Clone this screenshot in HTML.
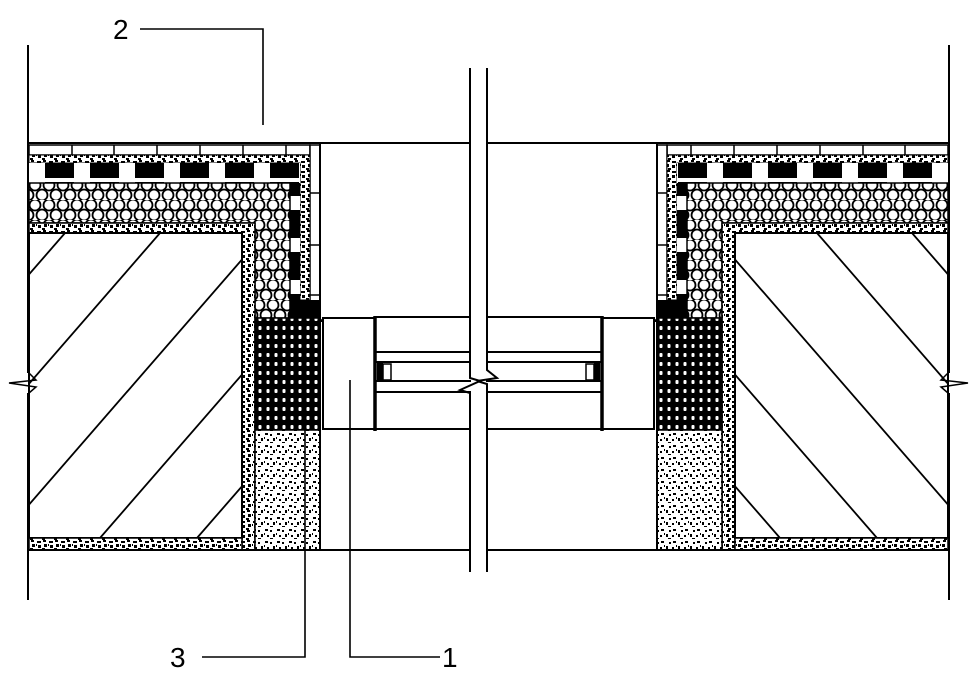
<!DOCTYPE html>
<html><head><meta charset="utf-8"><style>html,body{margin:0;padding:0;background:#fff}svg{display:block}</style></head>
<body>
<svg width="978" height="675" viewBox="0 0 978 675" xmlns="http://www.w3.org/2000/svg">
<defs>
<pattern id="spk" width="12" height="10" patternUnits="userSpaceOnUse">
<rect width="12" height="10" fill="#fff"/>
<rect x="1" y="1" width="4" height="2" fill="#000"/><rect x="7" y="0" width="3" height="2" fill="#000"/>
<rect x="8" y="4" width="3" height="3" fill="#000"/><rect x="2" y="5" width="3" height="3" fill="#000"/>
<rect x="6" y="8" width="3" height="2" fill="#000"/><rect x="0" y="4" width="1" height="2" fill="#000"/>
</pattern>
<pattern id="spk2" width="12" height="12" patternUnits="userSpaceOnUse">
<rect width="12" height="12" fill="#fff"/>
<rect x="1" y="1" width="3" height="2" fill="#000"/><rect x="6" y="2" width="2" height="2" fill="#000"/>
<rect x="9" y="6" width="2" height="3" fill="#000"/><rect x="3" y="7" width="2" height="2" fill="#000"/>
<rect x="6" y="10" width="3" height="1" fill="#000"/><rect x="0" y="5" width="1" height="2" fill="#000"/>
</pattern>
<pattern id="hex" width="14" height="20" patternUnits="userSpaceOnUse">
<rect width="14" height="20" fill="#fff"/>
<circle cx="7" cy="5" r="5.5" fill="none" stroke="#000" stroke-width="1.8"/>
<circle cx="0" cy="15" r="5.5" fill="none" stroke="#000" stroke-width="1.8"/>
<circle cx="14" cy="15" r="5.5" fill="none" stroke="#000" stroke-width="1.8"/>
</pattern>
<pattern id="dense" width="8" height="9" patternUnits="userSpaceOnUse">
<rect width="8" height="9" fill="#000"/>
<rect x="2.5" y="2" width="3" height="4" rx="1" fill="#fff"/>
</pattern>
<pattern id="dashH" width="45" height="20" patternUnits="userSpaceOnUse">
<rect width="45" height="20" fill="#fff"/>
<rect x="0" y="2" width="29" height="16" fill="#000"/>
</pattern>
<pattern id="dashV" width="10" height="42" patternUnits="userSpaceOnUse">
<rect width="10" height="42" fill="#fff"/>
<rect x="0" y="0" width="10" height="28" fill="#000"/>
</pattern>
<clipPath id="wallc"><rect x="30" y="233" width="212" height="305"/></clipPath>
<g id="half">
<rect x="29" y="145" width="281" height="10" fill="#fff" stroke="#000" stroke-width="1.5"/>
<g stroke="#000" stroke-width="1.5">
<line x1="72" y1="145" x2="72" y2="155"/><line x1="114" y1="145" x2="114" y2="155"/><line x1="157" y1="145" x2="157" y2="155"/>
<line x1="200" y1="145" x2="200" y2="155"/><line x1="243" y1="145" x2="243" y2="155"/><line x1="286" y1="145" x2="286" y2="155"/>
</g>
<rect x="310" y="145" width="10" height="173" fill="#fff" stroke="#000" stroke-width="1.5"/>
<g stroke="#000" stroke-width="1.5"><line x1="310" y1="193" x2="320" y2="193"/><line x1="310" y1="245" x2="320" y2="245"/><line x1="310" y1="295" x2="320" y2="295"/></g>
<path d="M29 155H310V300H300V163H29Z" fill="url(#spk)" stroke="#000" stroke-width="1"/>
<rect x="29" y="163" width="271" height="20" fill="url(#dashH)"/>
<rect x="290" y="183" width="10" height="117" fill="url(#dashV)"/>
<path d="M29 183H290V318H255V223H29Z" fill="url(#hex)" stroke="#000" stroke-width="1.5"/>
<path d="M29 223H255V550H242V233H29Z" fill="url(#spk)" stroke="#000" stroke-width="1.5"/>
<rect x="29" y="233" width="213" height="305" fill="#fff" stroke="#000" stroke-width="2"/>
<g clip-path="url(#wallc)" stroke="#000" stroke-width="1.8">
<line x1="-200" y1="538" x2="65" y2="233"/><line x1="-105" y1="538" x2="160" y2="233"/>
<line x1="0" y1="538" x2="265" y2="233"/><line x1="100" y1="538" x2="365" y2="233"/>
<line x1="197" y1="538" x2="462" y2="233"/>
</g>
<rect x="29" y="538" width="213" height="12" fill="url(#spk)" stroke="#000" stroke-width="1.5"/>
<path d="M290 300H320V318L325 322H290Z" fill="#000"/>
<rect x="255" y="318" width="65" height="112" fill="url(#dense)" stroke="#000" stroke-width="1.5"/>
<rect x="255" y="430" width="65" height="120" fill="url(#spk2)" stroke="#000" stroke-width="1.5"/>
<line x1="320" y1="143" x2="320" y2="550" stroke="#000" stroke-width="2"/>
<rect x="323" y="318" width="52" height="111" fill="#fff" stroke="#000" stroke-width="2"/>
<line x1="375" y1="316" x2="375" y2="431" stroke="#000" stroke-width="3.5"/>
<g stroke="#000" stroke-width="2">
<line x1="375" y1="317" x2="489" y2="317"/>
<line x1="375" y1="352" x2="489" y2="352"/>
<line x1="375" y1="362" x2="489" y2="362"/>
<line x1="375" y1="381" x2="489" y2="381"/>
<line x1="375" y1="392" x2="489" y2="392"/>
<line x1="323" y1="429" x2="489" y2="429"/>
</g>
<rect x="377" y="362" width="6" height="19" fill="#000"/>
<rect x="383" y="364" width="8" height="16" fill="#fff" stroke="#000" stroke-width="1.5"/>
<path d="M29 373L36 380L9 383L36 387L29 393" fill="none" stroke="#000" stroke-width="1.5"/>
</g>
</defs>
<rect width="978" height="675" fill="#fff"/>
<use href="#half"/>
<use href="#half" transform="translate(977,0) scale(-1,1)"/>
<g stroke="#000" stroke-width="2" fill="none">
<line x1="28" y1="45" x2="28" y2="373"/><line x1="28" y1="393" x2="28" y2="600"/>
<line x1="949" y1="45" x2="949" y2="373"/><line x1="949" y1="393" x2="949" y2="600"/>
<line x1="28" y1="143" x2="949" y2="143"/>
<line x1="28" y1="550" x2="949" y2="550"/>
</g>
<rect x="471" y="68" width="15" height="505" fill="#fff"/>
<g stroke="#000" stroke-width="2" fill="none">
<path d="M470 68V378L480 381L460 390L470 393V572"/>
<path d="M487 68V370L497 378L477 381L487 384V572"/>
</g>
<g stroke="#000" stroke-width="1.6" fill="none">
<path d="M140 29H263V125"/>
<path d="M202 657H305V430"/>
<path d="M350 380V657H440"/>
</g>
<g font-family="Liberation Sans, sans-serif" font-size="28" fill="#000">
<text x="113" y="39">2</text>
<text x="170" y="667">3</text>
<text x="442" y="667">1</text>
</g>
</svg>
</body></html>
